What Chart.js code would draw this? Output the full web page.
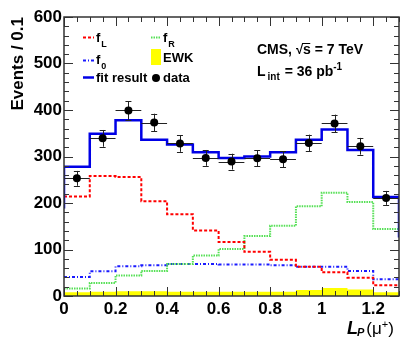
<!DOCTYPE html>
<html>
<head>
<meta charset="utf-8">
<script src="https://cdn.jsdelivr.net/npm/chart.js@4/dist/chart.umd.min.js"></script>
<style>
html, body { margin: 0; padding: 0; background: #fff; }
#wrap { width: 407px; height: 341px; }
</style>
</head>
<body>
<div id="wrap"><canvas id="lpChart"></canvas></div>
<script>
// bins of L_P, width 0.1
const binEdges = [0, 0.1, 0.2, 0.3, 0.4, 0.5, 0.6, 0.7, 0.8, 0.9, 1.0, 1.1, 1.2, 1.3];
const binCenters = [0.05, 0.15, 0.25, 0.35, 0.45, 0.55, 0.65, 0.75, 0.85, 0.95, 1.05, 1.15, 1.25];

// templates and fit (events per bin)
const fitResult = [278, 349, 378, 336, 326, 309, 297, 300, 309, 336, 358, 314, 213];
const fitLeftEdge = 188;
const fitRightEdge = 126;
const fL = [214, 258, 256, 204, 176, 141, 116, 95, 78, 63, 51, 39, 23];
const fR = [16, 28, 44, 54, 69, 87, 101, 129, 151, 193, 222, 202, 144];
const f0 = [41, 53, 64, 66, 69, 69, 68, 68, 66, 63, 63, 54, 36];
const ewk = [8, 9, 10, 10, 9, 9, 9, 9, 9, 13, 17, 14, 8];

// data with statistical errors
const dataValues = [253, 339, 399, 373, 328, 297, 289, 296, 294, 329, 371, 322, 211];
const dataErrors = [16, 18, 20, 19, 18, 17, 17, 17, 17, 18, 19, 18, 15];

// axis ticks
const xTickValues = [0, 0.2, 0.4, 0.6, 0.8, 1.0, 1.2];
const xTickLabels = ['0', '0.2', '0.4', '0.6', '0.8', '1', '1.2'];
const yTickValues = [0, 100, 200, 300, 400, 500, 600];
const yTickLabels = ['0', '100', '200', '300', '400', '500', '600'];

const FONT = "'Liberation Sans', Arial, Helvetica, sans-serif";
Chart.defaults.font.family = FONT;

// step histogram points: value held from left edge to next edge
function histPoints(values) {
    const pts = values.map((v, i) => ({ x: binEdges[i], y: v }));
    pts.push({ x: binEdges[values.length], y: values[values.length - 1] });
    return pts;
}

const fitPoints = [{ x: binEdges[0], y: fitLeftEdge }]
    .concat(histPoints(fitResult))
    .concat([{ x: binEdges[binEdges.length - 1], y: fitRightEdge }]);

// error bars under the data markers
const errorBars = {
    id: 'errorBars',
    beforeDatasetDraw(chart, args) {
        if (args.index !== 0) return;
        const { ctx, scales: { x, y } } = chart;
        ctx.save();
        ctx.strokeStyle = '#222';
        ctx.lineWidth = 1;
        dataValues.forEach((v, i) => {
            const px = x.getPixelForValue(binCenters[i]);
            const py = y.getPixelForValue(v);
            const xl = x.getPixelForValue(binEdges[i]);
            const xr = x.getPixelForValue(binEdges[i + 1]);
            const yt = y.getPixelForValue(v + dataErrors[i]);
            const yb = y.getPixelForValue(v - dataErrors[i]);
            ctx.beginPath();
            ctx.moveTo(xl, Math.round(py) + 0.5);
            ctx.lineTo(xr, Math.round(py) + 0.5);
            ctx.moveTo(Math.round(px) + 0.5, yt);
            ctx.lineTo(Math.round(px) + 0.5, yb);
            ctx.moveTo(px - 3, Math.round(yt) + 0.5);
            ctx.lineTo(px + 3, Math.round(yt) + 0.5);
            ctx.moveTo(px - 3, Math.round(yb) + 0.5);
            ctx.lineTo(px + 3, Math.round(yb) + 0.5);
            ctx.stroke();
        });
        ctx.restore();
    }
};

// ROOT style frame with inward ticks on all four sides
const frameTicks = {
    id: 'frameTicks',
    afterDatasetsDraw(chart) {
        const { ctx, chartArea: a, scales: { x, y } } = chart;
        ctx.save();
        ctx.strokeStyle = '#333';
        ctx.lineWidth = 1;
        ctx.beginPath();
        for (let i = 0; i <= 26; i++) {
            const px = Math.round(x.getPixelForValue(i * 0.05)) + 0.5;
            const len = i % 4 === 0 ? 9 : 5;
            ctx.moveTo(px, a.bottom); ctx.lineTo(px, a.bottom - len);
            ctx.moveTo(px, a.top); ctx.lineTo(px, a.top + len);
        }
        for (let i = 0; i <= 30; i++) {
            const py = Math.round(y.getPixelForValue(i * 20)) + 0.5;
            const len = i % 5 === 0 ? 9 : 5;
            ctx.moveTo(a.left, py); ctx.lineTo(a.left + len, py);
            ctx.moveTo(a.right, py); ctx.lineTo(a.right - len, py);
        }
        ctx.stroke();
        ctx.lineWidth = 1.5;
        ctx.strokeRect(a.left, a.top, a.right - a.left, a.bottom - a.top);
        ctx.restore();
    }
};

// helper: text with optional sub/superscript pieces
function drawPieces(ctx, x, y, pieces) {
    pieces.forEach(p => {
        ctx.font = p.font;
        ctx.fillText(p.text, x, y + (p.dy || 0));
        x += ctx.measureText(p.text).width + (p.gap || 0);
    });
    return x;
}

const annotations = {
    id: 'annotations',
    afterDraw(chart) {
        const { ctx } = chart;
        ctx.save();
        ctx.textBaseline = 'alphabetic';
        ctx.fillStyle = '#000';
        const b13 = 'bold 13px ' + FONT;
        const b9 = 'bold 9px ' + FONT;
        ctx.setLineDash([]);

        // legend samples
        ctx.lineWidth = 2;
        ctx.strokeStyle = '#ff0000';
        ctx.setLineDash([3, 2]);
        ctx.beginPath(); ctx.moveTo(83, 37.5); ctx.lineTo(94, 37.5); ctx.stroke();
        ctx.strokeStyle = '#1a1aff';
        ctx.setLineDash([3, 2, 1, 2]);
        ctx.beginPath(); ctx.moveTo(83, 60.5); ctx.lineTo(94, 60.5); ctx.stroke();
        ctx.setLineDash([]);
        ctx.strokeStyle = '#0000e6';
        ctx.lineWidth = 2.5;
        ctx.beginPath(); ctx.moveTo(83, 77.5); ctx.lineTo(94, 77.5); ctx.stroke();
        ctx.lineWidth = 2;
        ctx.strokeStyle = '#55e055';
        ctx.setLineDash([1.5, 1]);
        ctx.beginPath(); ctx.moveTo(151, 37.5); ctx.lineTo(161, 37.5); ctx.stroke();
        ctx.setLineDash([]);
        ctx.fillStyle = '#ffff00';
        ctx.fillRect(151, 49, 10, 16);
        ctx.fillStyle = '#000';
        ctx.beginPath(); ctx.arc(156, 78, 4, 0, Math.PI * 2); ctx.fill();

        // legend texts
        drawPieces(ctx, 96, 42, [{ text: 'f', font: b13, gap: 1 }, { text: 'L', font: b9, dy: 5 }]);
        drawPieces(ctx, 96, 64, [{ text: 'f', font: b13, gap: 1 }, { text: '0', font: b9, dy: 5 }]);
        drawPieces(ctx, 96, 82, [{ text: 'fit result', font: b13 }]);
        drawPieces(ctx, 163, 42, [{ text: 'f', font: b13, gap: 1 }, { text: 'R', font: b9, dy: 5 }]);
        drawPieces(ctx, 163, 62, [{ text: 'EWK', font: b13 }]);
        drawPieces(ctx, 163, 82, [{ text: 'data', font: b13 }]);

        // CMS label
        const b14 = 'bold 14px ' + FONT;
        const b10 = 'bold 10px ' + FONT;
        ctx.font = b14;
        let cx = drawPieces(ctx, 257, 54, [{ text: 'CMS, ', font: b14 }, { text: '\u221A', font: 'bold 13px ' + FONT }]);
        const sW = ctx.measureText('s').width;
        ctx.lineWidth = 1;
        ctx.strokeStyle = '#000';
        ctx.beginPath(); ctx.moveTo(cx - 1, 43.5); ctx.lineTo(cx + sW, 43.5); ctx.stroke();
        drawPieces(ctx, cx, 54, [{ text: 's = 7 TeV', font: b14 }]);
        drawPieces(ctx, 257, 76, [
            { text: 'L', font: b14, gap: 2 },
            { text: 'int', font: b10, dy: 4, gap: 1 },
            { text: ' = 36 pb', font: b14 },
            { text: '-1', font: b10, dy: -6 }
        ]);

        // x axis title
        drawPieces(ctx, 347, 334, [
            { text: 'L', font: 'italic bold 18px ' + FONT, gap: -1 },
            { text: 'P', font: 'italic bold 11px ' + FONT, dy: 2, gap: 2 },
            { text: '(\u03BC', font: '17px ' + FONT },
            { text: '+', font: '11px ' + FONT, dy: -6 },
            { text: ')', font: '17px ' + FONT }
        ]);
        ctx.restore();
    }
};

const ctx = document.getElementById('lpChart').getContext('2d');
const lpChart = new Chart(ctx, {
    type: 'line',
    data: {
        datasets: [{
                label: 'data',
                data: dataValues.map((v, i) => ({ x: binCenters[i], y: v })),
                showLine: false,
                pointRadius: 4,
                pointBackgroundColor: '#000',
                pointBorderColor: '#000',
                pointBorderWidth: 0,
            },
            {
                label: 'fit result',
                data: fitPoints,
                stepped: true,
                borderColor: '#0000e6',
                borderWidth: 2.5,
                pointRadius: 0,
                fill: false,
            },
            {
                label: 'f_L',
                data: histPoints(fL),
                stepped: true,
                borderColor: '#ff0000',
                borderWidth: 2,
                borderDash: [3, 2],
                pointRadius: 0,
                fill: false,
            },
            {
                label: 'f_R',
                data: histPoints(fR),
                stepped: true,
                borderColor: '#55e055',
                borderWidth: 2,
                borderDash: [1.5, 1],
                pointRadius: 0,
                fill: false,
            },
            {
                label: 'f_0',
                data: histPoints(f0),
                stepped: true,
                borderColor: '#1a1aff',
                borderWidth: 2,
                borderDash: [3, 2, 1, 2],
                pointRadius: 0,
                fill: false,
            },
            {
                label: 'EWK',
                data: histPoints(ewk),
                stepped: true,
                borderWidth: 0,
                borderColor: '#ffff00',
                backgroundColor: '#ffff00',
                pointRadius: 0,
                fill: 'origin',
            },
        ],
    },
    options: {
        responsive: true,
        maintainAspectRatio: false,
        animation: false,
        events: [],
        layout: { padding: { top: 17, right: 8, left: 0, bottom: 0 } },
        plugins: {
            legend: { display: false },
            tooltip: { enabled: false },
        },
        scales: {
            x: {
                type: 'linear',
                min: 0,
                max: 1.3,
                afterBuildTicks: s => { s.ticks = xTickValues.map(v => ({ value: v })); },
                afterFit: s => { s.height = 45; },
                grid: { display: false, drawTicks: false },
                border: { display: false },
                ticks: {
                    callback: (v) => xTickLabels[xTickValues.indexOf(v)],
                    color: '#000',
                    font: { size: 17, weight: 'bold' },
                    padding: 3,
                    maxRotation: 0,
                    autoSkip: false,
                },
            },
            y: {
                min: 0,
                max: 600,
                afterBuildTicks: s => { s.ticks = yTickValues.map(v => ({ value: v })); },
                afterFit: s => { s.width = 64; },
                grid: { display: false, drawTicks: false },
                border: { display: false },
                ticks: {
                    callback: (v) => yTickLabels[yTickValues.indexOf(v)],
                    color: '#000',
                    font: { size: 17, weight: 'bold' },
                    padding: 2,
                    autoSkip: false,
                },
                title: {
                    display: true,
                    text: 'Events / 0.1',
                    align: 'end',
                    color: '#000',
                    font: { size: 17, weight: 'bold' },
                    padding: { top: 8, bottom: 0 },
                },
            },
        },
    },
    plugins: [errorBars, frameTicks, annotations],
});
</script>
</body>
</html>
